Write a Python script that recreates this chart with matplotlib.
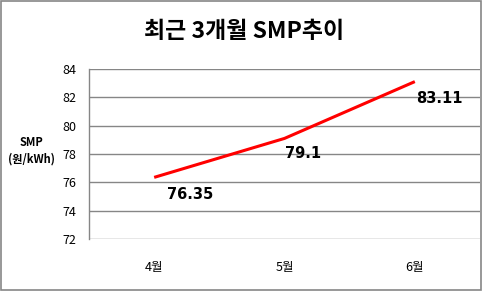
import matplotlib
matplotlib.use('Agg')
import matplotlib.pyplot as plt
from matplotlib.patches import Rectangle

plt.rcParams['font.family'] = ['Noto Sans CJK KR', 'DejaVu Sans']

months = ['4월', '5월', '6월']
smp = [76.35, 79.1, 83.11]
value_labels = ['76.35', '79.1', '83.11']
y_ticks = [72, 74, 76, 78, 80, 82, 84]

fig = plt.figure(figsize=(4.83, 2.91), dpi=100)
ax = fig.add_axes([89 / 483, 1 - 239 / 291, 391 / 483, 170 / 291])

x = list(range(len(months)))
ax.plot(x, smp, color='#ff0000', linewidth=2.2, solid_capstyle='butt', zorder=3)

# data labels (Excel style, right/below of the point)
offsets = [(9, -12), (0, -11), (1, -12)]
for xi, yi, lab, off in zip(x, smp, value_labels, offsets):
    ax.annotate(lab, (xi, yi), xytext=off, textcoords='offset points',
                ha='left', va='center', fontsize=10.5, fontweight='bold',
                family=['DejaVu Sans'])

ax.set_xlim(-0.5, 2.5)
ax.set_ylim(72, 84)
ax.set_yticks(y_ticks)
ax.set_yticklabels([str(t) for t in y_ticks], fontsize=9)
ax.set_xticks(x)
ax.set_xticklabels(months, fontsize=9)
ax.tick_params(axis='x', length=0, pad=16)
ax.tick_params(axis='y', length=0, pad=9)
ax.grid(axis='y', color='#868686', linewidth=1)
ax.set_axisbelow(True)
for s in ['top', 'right', 'bottom']:
    ax.spines[s].set_visible(False)
ax.spines['left'].set_color('#868686')
ax.spines['left'].set_linewidth(1)

fig.text(31 / 483, 1 - 151 / 291, 'SMP\n(원/kWh)', ha='center', va='center',
         fontsize=8, fontweight='bold', linespacing=1.4)
fig.text(244 / 483, 1 - 31 / 291, '최근 3개월 SMP추이', ha='center', va='center',
         fontsize=16.5, fontweight='bold')

fig.patches.append(Rectangle((0.002, 0.003), 0.994, 0.994, transform=fig.transFigure,
                             fill=False, edgecolor='#868686', linewidth=1.2))

fig.savefig('out.png', dpi=100)
